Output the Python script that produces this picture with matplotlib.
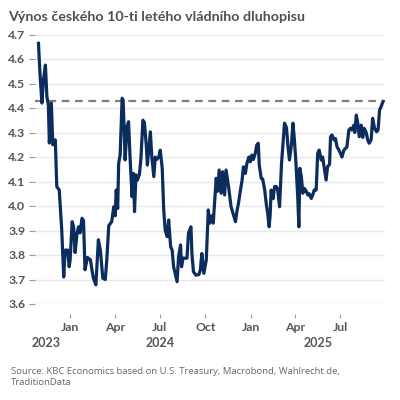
import pandas as pd
import matplotlib.pyplot as plt
import matplotlib.dates as mdates

plt.rcParams['font.family'] = ['Open Sans', 'DejaVu Sans']

# days after 2023-10-30 and the yield (%)
days = [0, 3, 7, 10, 14, 17, 20, 22, 26, 29, 34, 37, 42, 47, 51, 54, 59, 62, 64, 68,
        71, 74, 78, 81, 84, 88, 91, 94, 99, 105, 108, 111, 116, 121, 125, 130, 135, 138, 142, 148,
        152, 155, 157, 160, 162, 165, 169, 171, 173, 175, 179, 182, 185, 189, 192, 194, 197, 200, 204, 207,
        211, 214, 218, 220, 226, 229, 233, 236, 239, 243, 246, 250, 253, 256, 260, 263, 267, 270, 273, 276,
        280, 283, 287, 289, 292, 297, 300, 303, 308, 310, 313, 318, 324, 327, 330, 334, 339, 343, 346, 350,
        353, 357, 359, 362, 365, 369, 372, 376, 379, 384, 389, 394, 398, 401, 404, 408, 411, 414, 418, 421,
        425, 428, 431, 434, 438, 441, 444, 446, 450, 453, 457, 460, 463, 466, 468, 470, 474, 477, 480, 483,
        487, 491, 494, 497, 501, 504, 507, 511, 514, 517, 520, 524, 526, 528, 531, 534, 537, 541, 544, 547,
        551, 554, 557, 561, 564, 567, 571, 574, 578, 581, 584, 588, 590, 593, 597, 600, 603, 607, 610, 613,
        617, 620, 623, 627, 630, 633, 637, 639, 642, 645, 648, 652, 655, 658, 662, 665, 668, 672, 675, 679,
        683, 686, 689, 692, 696]
yields = [4.664, 4.542, 4.42, 4.514, 4.575, 4.446, 4.412, 4.257, 4.42, 4.25, 4.27, 4.079, 4.065, 3.902, 3.71, 3.82, 3.82, 3.752, 3.78, 3.936,
          3.915, 3.81, 3.89, 3.915, 3.89, 3.95, 3.94, 3.74, 3.79, 3.78, 3.74, 3.705, 3.678, 3.862, 3.82, 3.705, 3.70, 3.78, 3.92, 3.936,
          3.997, 3.96, 4.065, 3.99, 4.174, 4.208, 4.44, 4.433, 4.32, 4.188, 4.324, 4.344, 4.2, 4.038, 4.133, 3.977, 4.127, 4.106, 4.13, 4.195,
          4.35, 4.34, 4.242, 4.167, 4.303, 4.2, 4.12, 4.2, 4.19, 4.2, 4.228, 4.154, 3.984, 3.902, 3.875, 3.943, 3.834, 3.82, 3.752, 3.725,
          3.691, 3.793, 3.841, 3.752, 3.787, 3.787, 3.787, 3.889, 3.915, 3.806, 3.732, 3.718, 3.72, 3.739, 3.806, 3.725, 3.78, 3.984, 3.93, 3.96,
          3.93, 4.052, 4.113, 4.06, 4.147, 4.052, 4.14, 4.045, 4.147, 4.079, 3.997, 3.963, 3.936, 3.98, 4.011, 4.065, 4.1, 4.16, 4.133, 4.174,
          4.2, 4.18, 4.208, 4.19, 4.215, 4.249, 4.256, 4.167, 4.113, 4.11, 4.065, 4.011, 3.97, 3.915, 3.963, 4.065, 4.03, 4.079, 4.08, 4.07,
          3.997, 4.174, 4.256, 4.338, 4.32, 4.242, 4.188, 4.25, 4.338, 4.27, 4.18, 4.024, 3.915, 4.154, 4.12, 4.052, 4.072, 4.06, 4.045, 4.05,
          4.031, 4.045, 4.065, 4.065, 4.215, 4.228, 4.188, 4.2, 4.147, 4.106, 4.16, 4.17, 4.283, 4.29, 4.27, 4.275, 4.242, 4.228, 4.215, 4.2,
          4.228, 4.235, 4.24, 4.31, 4.317, 4.31, 4.33, 4.30, 4.371, 4.338, 4.283, 4.33, 4.28, 4.317, 4.30, 4.27, 4.256, 4.27, 4.358, 4.317,
          4.303, 4.31, 4.392, 4.405, 4.426]
start_date = '2023-10-30'
ref_level = 4.43
years = ['2023', '2024', '2025']
year_pos = ['2023-11-15', '2024-07-01', '2025-05-16']
title = 'Výnos českého 10-ti letého vládního dluhopisu'
source = 'Source: KBC Economics based on U.S. Treasury, Macrobond, Wahlrecht.de,\nTraditionData'

dates = pd.Timestamp(start_date) + pd.to_timedelta(days, unit='D')

fig = plt.figure(figsize=(4, 4), dpi=100)
ax = fig.add_axes([35 / 400, 96 / 400, 350 / 400, 269.5 / 400])

ax.plot(dates, yields, color='#0b2c5c', lw=2.3, solid_joinstyle='round', zorder=3)
ax.axhline(ref_level, color='#7f7f7f', lw=1.6, ls=(0, (3.5, 2.5)), zorder=2)

ax.set_xlim(pd.Timestamp('2023-10-23'), pd.Timestamp('2025-09-29'))
ax.set_ylim(3.6, 4.7)
ax.set_yticks([3.6, 3.7, 3.8, 3.9, 4.0, 4.1, 4.2, 4.3, 4.4, 4.5, 4.6, 4.7])
ax.yaxis.set_major_formatter(plt.FuncFormatter(lambda v, p: f'{v:.1f}'))
ax.grid(axis='y', color='#e8e8e8', lw=1)
ax.set_axisbelow(True)
for s in ax.spines.values():
    s.set_visible(False)
ax.spines['bottom'].set_position(('outward', 7))

ax.xaxis.set_major_locator(mdates.MonthLocator(bymonth=[1, 4, 7, 10]))
ax.xaxis.set_major_formatter(mdates.DateFormatter('%b'))
ax.tick_params(axis='x', length=3, color='#999999', pad=3, labelsize=8.8, labelcolor='#555555')
ax.tick_params(axis='y', length=4, color='#999999', pad=3, labelsize=8.8, labelcolor='#555555')
for lab in ax.get_xticklabels() + ax.get_yticklabels():
    lab.set_fontweight('bold')
    lab.set_family(['Lato', 'DejaVu Sans'])

for yr, pos in zip(years, year_pos):
    ax.text(pd.Timestamp(pos), -0.145, yr, transform=ax.get_xaxis_transform(),
            ha='center', va='center', fontsize=9, fontweight='bold', color='#555555',
            family=['Lato', 'DejaVu Sans'])

fig.text(8 / 400, 1 - 17 / 400, title, ha='left', va='center', fontsize=10.3,
         fontweight='bold', color='#505050', family=['Lato', 'DejaVu Sans'])
fig.text(11 / 400, 1 - 377 / 400, source, ha='left', va='center', fontsize=6.8,
         color='#666666', linespacing=1.35)

fig.savefig('out.png', dpi=100, facecolor='white')
